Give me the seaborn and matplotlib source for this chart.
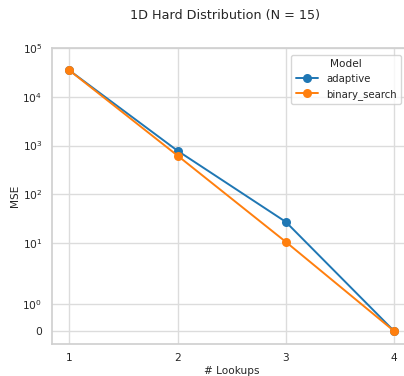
import matplotlib
matplotlib.use("Agg")
import matplotlib.pyplot as plt
import seaborn as sns
import pandas as pd

lookups = [1, 2, 3, 4]
adaptive = [35000, 780, 27, 0]
binary_search = [35000, 620, 10.5, 0]
models = ["adaptive", "binary_search"]
yticks = [0, 1, 10, 100, 1000, 10000, 100000]
ytick_labels = ["0", "$10^0$", "$10^1$", "$10^2$", "$10^3$", "$10^4$", "$10^5$"]

df = pd.DataFrame({
    "# Lookups": lookups * 2,
    "MSE": adaptive + binary_search,
    "Model": [models[0]] * 4 + [models[1]] * 4,
})

sns.set_theme(style="whitegrid", rc={"grid.color": "#dcdcdc", "axes.edgecolor": "#d0d0d0"})
fig = plt.figure(figsize=(4.04, 3.76), dpi=100)
ax = fig.add_axes([0.1295, 0.085, 0.888, 0.787])
sns.lineplot(data=df, x="# Lookups", y="MSE", hue="Model", palette="tab10", marker="o",
             markeredgewidth=0, markersize=6.5, linewidth=1.4, ax=ax)
ax.set_yscale("symlog", linthresh=2)
ax.set_ylim(-0.48, 1e5)
ax.set_yticks(yticks)
ax.set_yticklabels(ytick_labels)
ax.minorticks_off()
ax.set_xticks(lookups)
ax.set_xlim(0.843, 4.157)
ax.tick_params(axis="x", labelsize=7.7, pad=0.8)
ax.tick_params(axis="y", labelsize=7.7, pad=1.2)
ax.set_xlabel("# Lookups", fontsize=7.6, labelpad=1.5)
ax.set_ylabel("MSE", fontsize=7.6, labelpad=1.5)
leg = ax.legend(title="Model", loc="upper right", fontsize=7.3, title_fontsize=7.6,
                bbox_to_anchor=(0.985, 0.995), handlelength=2.2)
fig.text(0.557, 1 - 16 / 376, "1D Hard Distribution (N = 15)", ha="center", va="center", fontsize=9.2)
fig.savefig("out.png", dpi=100)
